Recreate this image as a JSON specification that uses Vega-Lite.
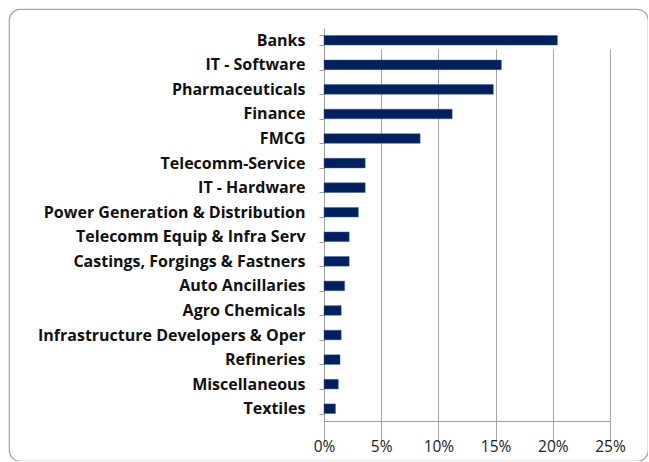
{
  "$schema": "https://vega.github.io/schema/vega-lite/v6.json",
  "width": 639,
  "height": 452,
  "autosize": {"type": "none"},
  "padding": {"left": 9, "top": 9, "right": 0, "bottom": 0},
  "background": "white",
  "config": {
    "view": {"stroke": "#a6a6a6", "strokeWidth": 1.2, "cornerRadius": 11, "fill": "white"}
  },
  "data": {
    "values": [
      {"sector": "Banks", "weight": 20.4},
      {"sector": "IT - Software", "weight": 15.5},
      {"sector": "Pharmaceuticals", "weight": 14.8},
      {"sector": "Finance", "weight": 11.2},
      {"sector": "FMCG", "weight": 8.4},
      {"sector": "Telecomm-Service", "weight": 3.6},
      {"sector": "IT - Hardware", "weight": 3.6},
      {"sector": "Power Generation & Distribution", "weight": 3.0},
      {"sector": "Telecomm Equip & Infra Serv", "weight": 2.2},
      {"sector": "Castings, Forgings & Fastners", "weight": 2.2},
      {"sector": "Auto Ancillaries", "weight": 1.8},
      {"sector": "Agro Chemicals", "weight": 1.5},
      {"sector": "Infrastructure Developers & Oper", "weight": 1.5},
      {"sector": "Refineries", "weight": 1.4},
      {"sector": "Miscellaneous", "weight": 1.25},
      {"sector": "Textiles", "weight": 1.0}
    ]
  },
  "mark": {"type": "bar", "color": "#002060", "stroke": "#3a5a96", "strokeWidth": 0.5},
  "encoding": {
    "y": {
      "field": "sector",
      "type": "nominal",
      "sort": null,
      "scale": {"range": [19, 412], "paddingInner": 0.61, "paddingOuter": 0.305},
      "axis": {
        "title": null,
        "offset": -315,
        "domainColor": "#a0a0a0",
        "tickColor": "#a0a0a0",
        "tickSize": 5,
        "tickBand": "extent",
        "labelFont": "Open Sans",
        "labelFontWeight": "bold",
        "labelFontSize": 16,
        "labelColor": "#111111",
        "labelPadding": 14,
        "labelLimit": 400,
        "grid": false
      }
    },
    "x": {
      "field": "weight",
      "type": "quantitative",
      "scale": {"domain": [0, 25], "range": [315, 601], "nice": false},
      "axis": {
        "title": null,
        "offset": -40,
        "values": [0, 5, 10, 15, 20, 25],
        "labelExpr": "datum.value + '%'",
        "labelFlush": false,
        "domainColor": "#a0a0a0",
        "tickColor": "#a0a0a0",
        "tickSize": 5,
        "grid": true,
        "gridColor": "#a6a6a6",
        "gridWidth": 1,
        "labelFont": "Open Sans",
        "labelFontSize": 15.5,
        "labelColor": "#222222",
        "labelPadding": 13
      }
    }
  }
}
